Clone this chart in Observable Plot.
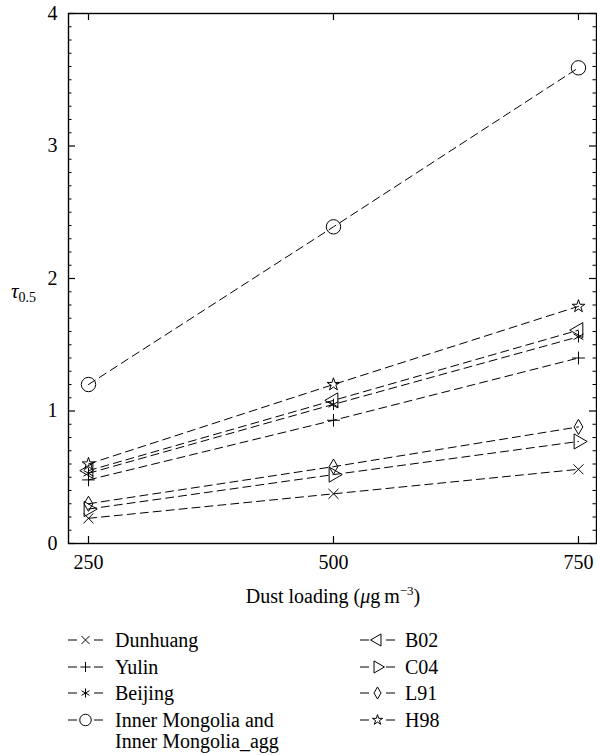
<!DOCTYPE html>
<html>
<head>
<meta charset="utf-8">
<script src="https://cdn.jsdelivr.net/npm/d3@7"></script>
<script src="https://cdn.jsdelivr.net/npm/@observablehq/plot@0.6"></script>
<style>
  body { margin: 0; background: #fff; font-family: "Liberation Serif", "DejaVu Serif", serif; color: #000; }
  #wrap { position: relative; width: 597px; height: 755px; overflow: hidden; font-family: "Liberation Serif", "DejaVu Serif", serif; }
  #wrap svg { display: block; }
  #wrap svg text, #wrap svg g { font-family: "Liberation Serif", "DejaVu Serif", serif !important; }
  .ylab { position: absolute; left: 11px; top: 279px; font-size: 21px; }
  .ylab i { font-style: italic; }
  .ylab sub { font-size: 14px; vertical-align: -4px; }
  .xlab { position: absolute; left: 183px; width: 300px; top: 577px; text-align: center; font-size: 20px; line-height: 28px; }
  .xlab sup { font-size: 13px; vertical-align: 8px; }
  .leg { position: absolute; display: flex; align-items: center; font-size: 20px; height: 24px; font-family: "Liberation Serif", "DejaVu Serif", serif; }
  .leg svg { flex: none; }
  .leg span { line-height: 21px; }
</style>
</head>
<body>
<div id="wrap"></div>
<script>
// ---- data ----
const dustLoading = [250, 500, 750];
const seriesNames = ["Dunhuang", "Yulin", "Beijing", "Inner Mongolia and Inner Mongolia_agg", "B02", "C04", "L91", "H98"];
const dunhuang      = [0.19, 0.375, 0.56];
const yulin         = [0.48, 0.93, 1.40];
const beijing       = [0.53, 1.05, 1.56];
const innerMongolia = [1.20, 2.39, 3.59];
const b02           = [0.55, 1.08, 1.61];
const c04           = [0.26, 0.52, 0.77];
const l91           = [0.30, 0.58, 0.88];
const h98           = [0.60, 1.20, 1.79];
const seriesValues = [dunhuang, yulin, beijing, innerMongolia, b02, c04, l91, h98];
const xTickValues = [250, 500, 750];
const yTickValues = [0, 1, 2, 3, 4];

// ---- styles (per series) ----
const symbolStyles = [
  {symbol: "times", r: 4.6, rotate: 0},
  {symbol: "plus", r: 4.2, rotate: 0},
  {symbol: "asterisk", r: 5.4, rotate: 0},
  {symbol: "circle", r: 7.2, rotate: 0},
  {symbol: "triangle2", r: 7.2, rotate: -90},
  {symbol: "triangle2", r: 7.2, rotate: 90},
  {symbol: "diamond", r: 4.6, rotate: 0},
  {symbol: "star", r: 4.0, rotate: 0}
];

const rows = [];
seriesNames.forEach((name, i) => {
  dustLoading.forEach((x, j) => rows.push({series: name, idx: i, x, y: seriesValues[i][j]}));
});

const W = 597, H = 578, mL = 68, mR = 1, mT = 13, mB = 35;
const fw = W - mL - mR, fh = H - mT - mB;
const yMinor = d3.range(0, 41).map(i => i / 10).filter(v => Math.abs(v - Math.round(v)) > 1e-9);

const dotMarks = symbolStyles.map((s, i) =>
  Plot.dot(rows.filter(d => d.idx === i), {
    x: "x", y: "y", symbol: () => s.symbol, r: s.r, rotate: s.rotate,
    stroke: "black", strokeWidth: 1, fill: "none"
  })
);

const chart = Plot.plot({
  width: W, height: H,
  marginLeft: mL, marginRight: mR, marginTop: mT, marginBottom: mB,
  style: {fontFamily: "Liberation Serif, DejaVu Serif, serif", fontSize: "20px", color: "black", background: "white"},
  x: {domain: [229.6, 768.4], label: null},
  y: {domain: [0, 4], label: null},
  symbol: {type: "identity"},
  marks: [
    Plot.tickY(yMinor, {y: d => d, insetRight: fw - 3.5, stroke: "black", strokeWidth: 1}),
    Plot.tickY(yMinor, {y: d => d, insetLeft: fw - 3.5, stroke: "black", strokeWidth: 1}),
    Plot.tickY(yTickValues, {y: d => d, insetRight: fw - 7, stroke: "black", strokeWidth: 1.2}),
    Plot.tickY(yTickValues, {y: d => d, insetLeft: fw - 7, stroke: "black", strokeWidth: 1.2}),
    Plot.tickX(xTickValues, {x: d => d, insetTop: fh - 7, stroke: "black", strokeWidth: 1.2}),
    Plot.tickX(xTickValues, {x: d => d, insetBottom: fh - 7, stroke: "black", strokeWidth: 1.2}),
    Plot.axisY({ticks: yTickValues, tickSize: 0, tickPadding: 11, tickFormat: d3.format("d"), label: null, fontSize: 20}),
    Plot.axisX({ticks: xTickValues, tickSize: 0, tickPadding: 11, tickFormat: d3.format("d"), label: null, fontSize: 20}),
    Plot.line(rows, {x: "x", y: "y", z: "series", stroke: "black", strokeWidth: 1, strokeDasharray: "8,5"}),
    ...dotMarks,
    Plot.frame({stroke: "black", strokeWidth: 1.4})
  ]
});

const wrap = document.getElementById("wrap");
wrap.appendChild(chart);

const ylab = document.createElement("div");
ylab.className = "ylab";
ylab.innerHTML = "<i>τ</i><sub>0.5</sub>";
wrap.appendChild(ylab);

const xlab = document.createElement("div");
xlab.className = "xlab";
xlab.innerHTML = "Dust loading (<i>μ</i>g\u2009m<sup>−3</sup>)";
wrap.appendChild(xlab);

// ---- legend ----
const d3Types = {
  times: d3.symbolTimes, plus: d3.symbolPlus, asterisk: d3.symbolAsterisk, circle: d3.symbolCircle,
  triangle2: d3.symbolTriangle2, diamond: d3.symbolDiamond, star: d3.symbolStar
};
const legendLayout = [
  {left: 68, text: 115, top: 640}, {left: 68, text: 115, top: 667}, {left: 68, text: 115, top: 693}, {left: 68, text: 115, top: 720},
  {left: 360, text: 405, top: 640}, {left: 360, text: 405, top: 667}, {left: 360, text: 405, top: 693}, {left: 360, text: 405, top: 720}
];
const legendLabels = ["Dunhuang", "Yulin", "Beijing", "Inner Mongolia and<br>Inner Mongolia_agg", "B02", "C04", "L91", "H98"];
seriesNames.forEach((name, i) => {
  const s = symbolStyles[i], L = legendLayout[i];
  const size = Math.PI * Math.pow(s.r * 0.8, 2);
  const path = d3.symbol(d3Types[s.symbol], size)();
  const div = document.createElement("div");
  div.className = "leg";
  div.style.left = L.left + "px";
  div.style.top = (L.top - 12) + "px";
  const twoLine = legendLabels[i].includes("<br>");
  div.innerHTML =
    `<svg width="${L.text - L.left}" height="24" style="align-self:flex-start">
      <line x1="0" x2="9" y1="12" y2="12" stroke="black" stroke-width="1"/>
      <line x1="26" x2="35" y1="12" y2="12" stroke="black" stroke-width="1"/>
      <path d="${path}" transform="translate(17.5,12) rotate(${s.rotate})" fill="none" stroke="black" stroke-width="1"/>
    </svg><span style="${twoLine ? "margin-top:2px;align-self:flex-start" : ""}">${legendLabels[i]}</span>`;
  wrap.appendChild(div);
});
</script>
</body>
</html>
